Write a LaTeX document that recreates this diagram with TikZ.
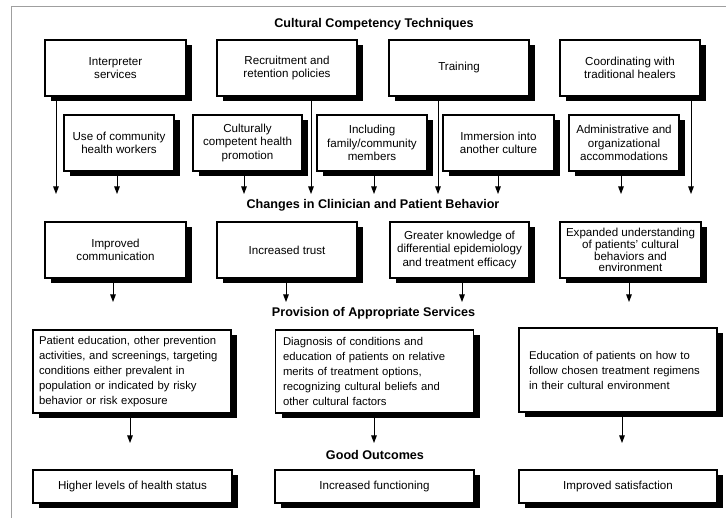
\documentclass[tikz,border=0pt]{standalone}
\usepackage{fontspec}
\setmainfont{Liberation Sans}
\usetikzlibrary{arrows.meta,shadows}
\newcommand\myNoHyph{\hyphenpenalty 10000 \exhyphenpenalty 10000 \relax}
\begin{document}
\begin{tikzpicture}[x=1pt,y=-1pt,
  box/.style={draw=black, line width=1.1pt, fill=white, inner sep=0pt, outer sep=0pt, align=center,
    font=\fontsize{11.6}{13.3}\selectfont,
    general shadow={fill=black, shadow xshift=6pt, shadow yshift=-5pt}},
  bigbox/.style={box, minimum height=83pt, minimum width=198pt, text width=186pt, align=left,
    font=\fontsize{11.3}{15}\selectfont\myNoHyph},
  lowbox/.style={box, minimum height=33pt, minimum width=199pt},
  ttl/.style={font=\fontsize{12.6}{14}\selectfont\bfseries, inner sep=0pt},
  arr/.style={-{Triangle[length=7.5pt,width=5.5pt]}, line width=0.9pt}
]
\useasboundingbox (0,0) rectangle (726,518);
\draw[gray!75, line width=1pt] (726,7) -- (11,7) -- (11,518);

% titles
\node[ttl] (t1) at (374,24) {Cultural Competency Techniques};
\node[ttl] (t2) at (373,205) {Changes in Clinician and Patient Behavior};
\node[ttl] (t3) at (373.5,313) {Provision of Appropriate Services};
\node[ttl] (t4) at (375,455) {Good Outcomes};

\coordinate (e1) at (0,194);
\coordinate (e2) at (0,302);
\coordinate (e3) at (0,443);

% row 1
\node[box, minimum width=141pt, minimum height=56pt] (int) at (115.5,68) {Interpreter\\services};
\node[box, minimum width=140pt, minimum height=56pt] (rec) at (287,68) {Recruitment and\\retention policies};
\node[box, minimum width=140pt, minimum height=56pt] (trn) at (459,68) {Training};
\node[box, minimum width=140pt, minimum height=56pt] (coo) at (630,68) {Coordinating with\\traditional healers};

% row 2
\node[box, minimum width=110pt, minimum height=56pt] (chw) at (119,143) {Use of community\\health workers};
\node[box, minimum width=109pt, minimum height=56pt] (chp) at (247.5,143) {Culturally\\competent health\\promotion};
\node[box, minimum width=110pt, minimum height=56pt] (fam) at (372,143) {Including\\family/community\\members};
\node[box, minimum width=111pt, minimum height=56pt] (imm) at (498.5,143) {Immersion into\\another culture};
\node[box, minimum width=110pt, minimum height=56pt] (adm) at (624,143) {Administrative and\\organizational\\accommodations};

% arrows to changes
\draw[arr] (int.south -| 56,0) -- (56,0 |- e1);
\draw[arr] (chw.south -| 117,0) -- (117,0 |- e1);
\draw[arr] (chp.south -| 244,0) -- (244,0 |- e1);
\draw[arr] (rec.south -| 311,0) -- (311,0 |- e1);
\draw[arr] (fam.south -| 374,0) -- (374,0 |- e1);
\draw[arr] (trn.south -| 438,0) -- (438,0 |- e1);
\draw[arr] (imm.south -| 498,0) -- (498,0 |- e1);
\draw[arr] (adm.south -| 621,0) -- (621,0 |- e1);
\draw[arr] (coo.south -| 691,0) -- (691,0 |- e1);

% row 3
\node[box, minimum width=141pt, minimum height=56pt] (com) at (115.5,250) {Improved\\communication};
\node[box, minimum width=140pt, minimum height=56pt] (tru) at (287,250) {Increased trust};
\node[box, minimum width=139pt, minimum height=56pt] (knw) at (459.5,250) {Greater knowledge of\\differential epidemiology\\and treatment efficacy};
\node[box, minimum width=141pt, minimum height=56pt, font=\fontsize{11.6}{11.8}\selectfont] (exp) at (630.5,250) {Expanded understanding\\of patients' cultural\\behaviors and\\environment};

\draw[arr] (com.south -| 113,0) -- (113,0 |- e2);
\draw[arr] (tru.south -| 286,0) -- (286,0 |- e2);
\draw[arr] (knw.south -| 462,0) -- (462,0 |- e2);
\draw[arr] (exp.south -| 629,0) -- (629,0 |- e2);

% row 4
\node[bigbox] (pe) at (132,371.5) {Patient education, other prevention\\activities, and screenings, targeting\\conditions either prevalent in\\population or indicated by risky\\behavior or risk exposure};
\node[bigbox, text width=183pt] (dx) at (374.5,371.5) {Diagnosis of conditions and\\education of patients on relative\\merits of treatment options,\\recognizing cultural beliefs and\\other cultural factors};
\node[bigbox, minimum height=84pt, text width=178pt] (ed) at (618,370) {Education of patients on how to\\follow chosen treatment regimens\\in their cultural environment};

\draw[arr] (pe.south -| 130,0) -- (130,0 |- e3);
\draw[arr] (dx.south -| 374,0) -- (374,0 |- e3);
\draw[arr] (ed.south -| 622,0) -- (622,0 |- e3);

% row 5
\node[lowbox] (hl) at (132.5,486.5) {Higher levels of health status};
\node[lowbox] (fn) at (374.5,486.5) {Increased functioning};
\node[lowbox, minimum width=198pt] (sat) at (618,486.5) {Improved satisfaction};
\end{tikzpicture}
\end{document}
